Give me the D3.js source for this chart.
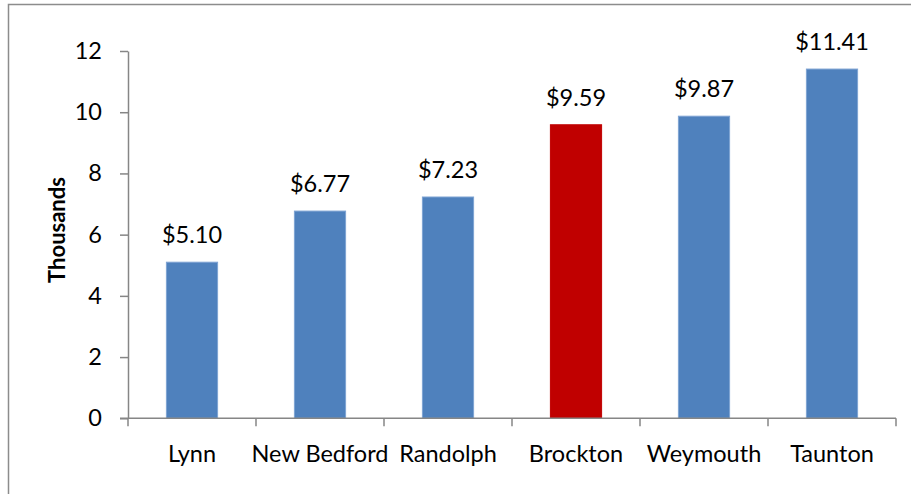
<!DOCTYPE html>
<html>
<head>
<meta charset="utf-8">
<script src="https://cdn.jsdelivr.net/npm/d3@7"></script>
<style>
  body { margin: 0; background: #fff; }
  svg { display: block; font-family: Lato, "Open Sans", sans-serif; }
</style>
</head>
<body>
<div class="canvas"></div>
<script>
// data (thousands of dollars)
const cities = ["Lynn", "New Bedford", "Randolph", "Brockton", "Weymouth", "Taunton"];
const values = [5.10, 6.77, 7.23, 9.59, 9.87, 11.41];
const highlight = ["Brockton"];
const yTicks = [0, 2, 4, 6, 8, 10, 12];

var svg = d3.select(".canvas").append("svg").attr("width", 911).attr("height", 494);

plot = { 'left': 128, 'right': 896, 'top': 51, 'bottom': 418.3 };

// frame around the chart (top and left edges visible)
svg.append("path")
    .attr("d", "M8.5,494 V4.5 H911")
    .attr("fill", "none")
    .attr("stroke", "#8c8c8c")
    .attr("stroke-width", 1.5);

var x = d3.scaleBand().domain(cities).range([plot.left, plot.right]).padding(0);
var y = d3.scaleLinear().domain([0, 12]).range([plot.bottom, plot.top]);

const barW = x.bandwidth() * 0.4;

// bars
svg.selectAll("rect.bar")
    .data(cities)
    .enter()
    .append("rect")
    .attr("class", "bar")
    .attr("x", d => x(d) + (x.bandwidth() - barW) / 2)
    .attr("y", (d, i) => y(values[i]))
    .attr("width", barW)
    .attr("height", (d, i) => y(0) - y(values[i]))
    .attr("fill", d => highlight.includes(d) ? "#c00000" : "#4f81bd")
    .attr("stroke", d => highlight.includes(d) ? "#c00000" : "#7ea3d3")
    .attr("stroke-width", 1);

// value labels
svg.selectAll("text.val")
    .data(cities)
    .enter()
    .append("text")
    .attr("class", "val")
    .attr("x", d => x(d) + x.bandwidth() / 2)
    .attr("y", (d, i) => y(values[i]) - 19)
    .attr("text-anchor", "middle")
    .attr("font-size", "23.5px")
    .attr("fill", "#000")
    .text((d, i) => "$" + values[i].toFixed(2));

// y axis
var yAxis = svg.append("g")
    .attr("transform", "translate(" + plot.left + ",0)")
    .call(d3.axisLeft(y).tickValues(yTicks).tickSize(8).tickPadding(18).tickSizeOuter(0));
yAxis.select(".domain").attr("stroke", "#868686").attr("stroke-width", 1.5);
yAxis.selectAll(".tick line").attr("stroke", "#868686").attr("stroke-width", 1.5);
yAxis.selectAll(".tick text")
    .attr("font-size", "23.5px")
    .attr("font-family", "Lato, sans-serif")
    .attr("fill", "#000");

// x axis baseline + boundary ticks
svg.append("line")
    .attr("x1", plot.left - 8)
    .attr("x2", plot.right)
    .attr("y1", y(0))
    .attr("y2", y(0))
    .attr("stroke", "#868686")
    .attr("stroke-width", 1.5);

var bounds = cities.map(d => x(d)).concat([plot.right]);
svg.selectAll("line.xtick")
    .data(bounds)
    .enter()
    .append("line")
    .attr("class", "xtick")
    .attr("x1", d => d)
    .attr("x2", d => d)
    .attr("y1", y(0))
    .attr("y2", y(0) + 8)
    .attr("stroke", "#868686")
    .attr("stroke-width", 1.5);

svg.selectAll("text.cat")
    .data(cities)
    .enter()
    .append("text")
    .attr("class", "cat")
    .attr("x", d => x(d) + x.bandwidth() / 2)
    .attr("y", 462)
    .attr("text-anchor", "middle")
    .attr("font-size", "23.5px")
    .attr("fill", "#000")
    .text(d => d);

// y axis title
svg.append("text")
    .attr("transform", "translate(65,230) rotate(-90)")
    .attr("text-anchor", "middle")
    .attr("font-size", "22px")
    .attr("font-weight", "bold")
    .attr("fill", "#000")
    .text("Thousands");
</script>
</body>
</html>
